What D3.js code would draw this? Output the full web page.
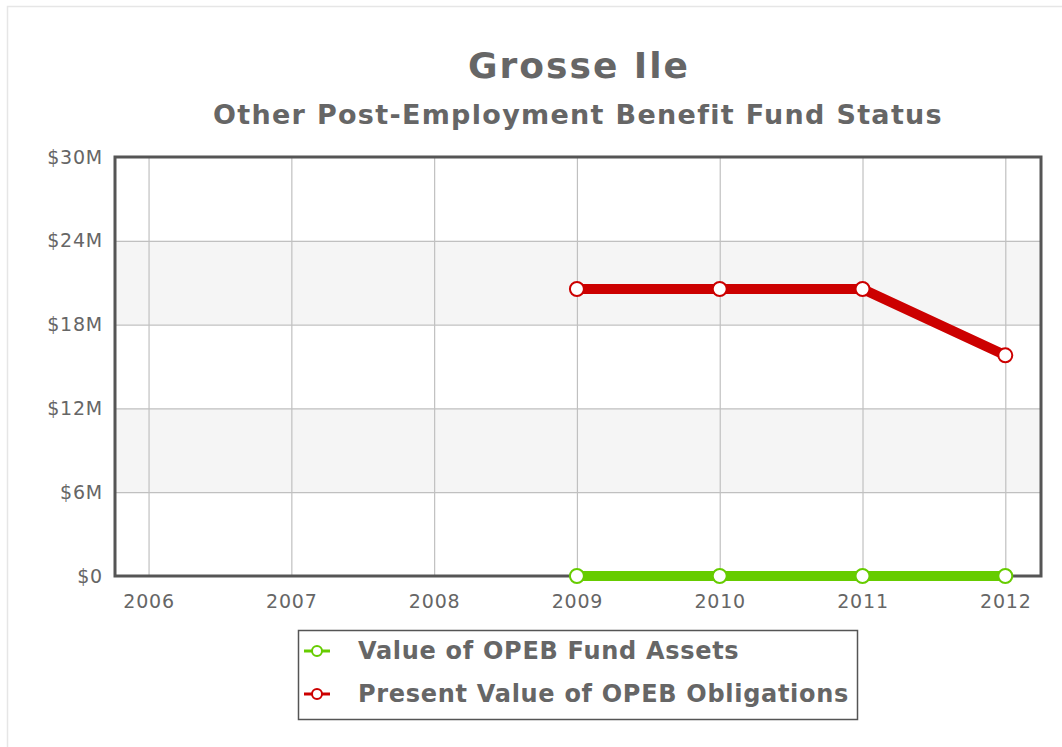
<!DOCTYPE html>
<html><head><meta charset="utf-8">
<script src="https://cdn.jsdelivr.net/npm/d3@7"></script>
<style>body{margin:0;background:#fff;} text{font-family:"DejaVu Sans",Verdana,sans-serif;}</style>
</head><body>
<svg id="c" width="1062" height="747"></svg>
<script>
const years = [2006, 2007, 2008, 2009, 2010, 2011, 2012];
const assets = [null, null, null, 0, 0, 0, 0];
const obligations = [null, null, null, 20.55, 20.55, 20.55, 15.8];
const yTicks = [0, 6, 12, 18, 24, 30];
const seriesNames = ["Value of OPEB Fund Assets", "Present Value of OPEB Obligations"];
const seriesColors = ["#66cc00", "#cc0000"];

const svg = d3.select("#c");
// outer container border
svg.append("rect").attr("x",7.5).attr("y",6.5).attr("width",1070).attr("height",760)
  .attr("fill","none").attr("stroke","#e6e6e6").attr("stroke-width",1.5);

const L=115, R=1041, T=157, B=576;
const x = d3.scaleLinear().domain([2005.765, 2012.25]).range([L, R]);
const y = d3.scaleLinear().domain([0, 30]).range([B, T]);

// bands
for (let i=0;i<yTicks.length-1;i++){
  if (i%2===1) svg.append("rect").attr("x",L).attr("width",R-L)
    .attr("y",y(yTicks[i+1])).attr("height",y(yTicks[i])-y(yTicks[i+1])).attr("fill","#f5f5f5");
}
// grid
const gy = svg.append("g").attr("transform",`translate(${L},0)`)
  .call(d3.axisLeft(y).tickValues(yTicks).tickSize(-(R-L)).tickFormat(""));
gy.select(".domain").remove();
gy.selectAll("line").attr("stroke","#c0c0c0").attr("stroke-width",1.2);
const gx = svg.append("g").attr("transform",`translate(0,${B})`)
  .call(d3.axisBottom(x).tickValues(years).tickSize(-(B-T)).tickFormat(""));
gx.select(".domain").remove();
gx.selectAll("line").attr("stroke","#c0c0c0").attr("stroke-width",1.2);

// labels
const yl = svg.append("g").attr("transform",`translate(${L},0)`)
  .call(d3.axisLeft(y).tickValues(yTicks).tickSize(0).tickPadding(12)
  .tickFormat(d=> d===0 ? "$0" : "$"+d+"M"));
yl.select(".domain").remove();
yl.selectAll("text").attr("font-size",19).attr("letter-spacing",0.8).attr("fill","#666").style("font-family","DejaVu Sans");
const xl = svg.append("g").attr("transform",`translate(0,${B})`)
  .call(d3.axisBottom(x).tickValues(years).tickSize(0).tickPadding(19).tickFormat(d3.format("d")));
xl.select(".domain").remove();
xl.selectAll("text").attr("font-size",19).attr("letter-spacing",0.8).attr("fill","#666").style("font-family","DejaVu Sans");

// frame
svg.append("rect").attr("x",L).attr("y",T).attr("width",R-L).attr("height",B-T)
  .attr("fill","none").attr("stroke","#555").attr("stroke-width",3);

// series
const line = d3.line().defined(d=>d.v!==null).x(d=>x(d.yr)).y(d=>y(d.v));
[assets, obligations].forEach((arr,si)=>{
  const data = years.map((yr,i)=>({yr, v:arr[i]}));
  svg.append("path").datum(data).attr("d",line).attr("fill","none")
    .attr("stroke",seriesColors[si]).attr("stroke-width",10).attr("stroke-linejoin","round");
  svg.selectAll(null).data(data.filter(d=>d.v!==null)).enter().append("circle")
    .attr("cx",d=>x(d.yr)).attr("cy",d=>y(d.v)).attr("r",7)
    .attr("fill","#fff").attr("stroke",seriesColors[si]).attr("stroke-width",2);
});

// titles
svg.append("text").attr("x",579).attr("y",78).attr("text-anchor","middle")
  .attr("font-size",36).attr("letter-spacing",2).attr("font-weight","bold").attr("fill","#666").text("Grosse Ile");
svg.append("text").attr("x",578).attr("y",124).attr("text-anchor","middle")
  .attr("font-size",27).attr("letter-spacing",1.3).attr("font-weight","bold").attr("fill","#666")
  .text("Other Post-Employment Benefit Fund Status");

// legend
const lg = svg.append("g");
lg.append("rect").attr("x",298.5).attr("y",630.5).attr("width",559).attr("height",89)
  .attr("fill","#fff").attr("stroke","#555").attr("stroke-width",1.5);
seriesNames.forEach((n,i)=>{
  const cy = 651 + i*43;
  lg.append("line").attr("x1",304).attr("x2",330).attr("y1",cy).attr("y2",cy)
    .attr("stroke",seriesColors[i]).attr("stroke-width",3);
  lg.append("circle").attr("cx",317).attr("cy",cy).attr("r",5).attr("fill","#fff")
    .attr("stroke",seriesColors[i]).attr("stroke-width",2);
  lg.append("text").attr("x",358).attr("y",cy+8).attr("font-size",24).attr("letter-spacing",0.7).attr("font-weight","bold")
    .attr("fill","#666").text(n);
});
</script>
</body></html>
